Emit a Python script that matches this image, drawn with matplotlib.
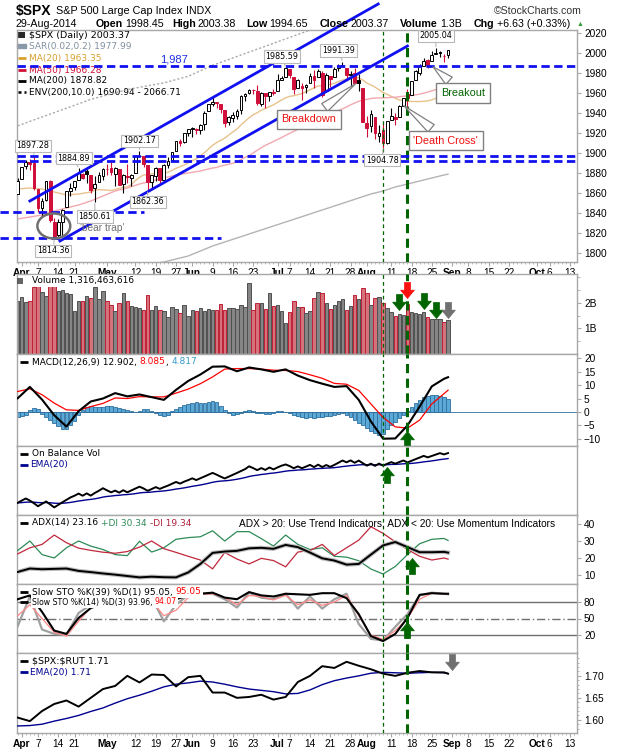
import numpy as np
import pandas as pd
import matplotlib
matplotlib.use("Agg")
import matplotlib.pyplot as plt
import matplotlib.transforms as mtransforms
from matplotlib.path import Path
from matplotlib.patches import Ellipse

plt.rcParams['font.family'] = ['Liberation Sans', 'DejaVu Sans']
LEG = ['DejaVu Sans']

W, H = 620, 750

# ---------------- data ----------------
holidays = ['2014-04-18', '2014-05-26', '2014-07-04', '2014-09-01']
trade_days = pd.bdate_range('2014-03-31', '2014-10-17', freq='C', holidays=holidays)

opens = [1859.16, 1873.96, 1886.61, 1891.43, 1890.25, 1863.92, 1845.48, 1852.64, 1872.28, 1830.65,
         1818.18, 1831.45, 1846.01, 1861.73, 1865.79, 1872.57, 1879.32, 1881.97, 1877.72, 1865.00,
         1870.78, 1877.10, 1884.39, 1885.30, 1879.45, 1883.69, 1868.53, 1877.39, 1875.27, 1880.03,
         1896.75, 1897.13, 1888.16, 1871.19, 1876.66, 1884.88, 1873.34, 1888.19, 1893.32, 1902.01,
         1911.77, 1910.60, 1920.33, 1923.87, 1923.07, 1923.06, 1928.52, 1942.41, 1948.97, 1950.34,
         1949.37, 1943.35, 1930.80, 1934.84, 1937.15, 1942.73, 1957.50, 1960.45, 1962.92, 1961.97,
         1949.27, 1959.89, 1956.56, 1960.79, 1962.29, 1973.06, 1975.88, 1984.22, 1976.39, 1965.10,
         1966.67, 1965.76, 1969.86, 1977.36, 1976.35, 1979.75, 1961.54, 1976.93, 1975.65, 1985.32,
         1988.07, 1984.60, 1978.25, 1980.03, 1973.21, 1965.14, 1929.80, 1926.62, 1936.34, 1917.29,
         1923.03, 1910.35, 1933.43, 1935.73, 1935.60, 1947.41, 1958.87, 1958.36, 1972.73, 1980.46,
         1986.82, 1992.60, 1991.74, 1998.59, 2000.54, 1997.42, 1998.45]
highs = [1875.18, 1885.84, 1893.17, 1893.80, 1897.28, 1864.04, 1854.95, 1872.43, 1872.53, 1835.07,
         1834.19, 1844.02, 1862.31, 1869.63, 1871.89, 1884.89, 1879.75, 1884.06, 1877.72, 1877.01,
         1880.60, 1885.20, 1888.59, 1891.33, 1885.51, 1883.69, 1878.83, 1889.07, 1878.57, 1897.13,
         1902.17, 1897.13, 1888.16, 1878.28, 1886.00, 1884.88, 1888.80, 1896.33, 1901.26, 1912.28,
         1914.46, 1920.03, 1924.03, 1925.88, 1925.07, 1928.63, 1941.74, 1949.44, 1955.55, 1950.86,
         1949.37, 1943.35, 1937.30, 1941.15, 1943.69, 1957.74, 1959.87, 1963.91, 1963.74, 1968.17,
         1960.83, 1959.89, 1961.47, 1964.24, 1978.58, 1976.67, 1985.59, 1984.22, 1976.39, 1974.15,
         1969.84, 1968.67, 1979.85, 1982.52, 1983.94, 1981.80, 1979.91, 1976.93, 1986.24, 1989.23,
         1991.39, 1984.60, 1981.52, 1984.85, 1978.90, 1965.14, 1937.35, 1942.92, 1936.34, 1927.91,
         1928.89, 1932.38, 1944.90, 1939.65, 1948.41, 1955.23, 1964.04, 1971.99, 1982.57, 1988.57,
         1994.76, 1993.54, 2001.95, 2005.04, 2002.14, 1998.55, 2003.38]
lows = [1859.16, 1873.96, 1883.79, 1882.65, 1863.26, 1841.48, 1837.49, 1852.38, 1830.87, 1814.36,
        1815.80, 1816.29, 1846.01, 1856.72, 1863.18, 1872.57, 1873.91, 1870.24, 1859.70, 1850.61,
        1870.78, 1872.69, 1878.04, 1878.50, 1866.77, 1867.72, 1859.79, 1870.05, 1867.02, 1880.03,
        1896.06, 1885.77, 1862.36, 1864.82, 1872.42, 1868.14, 1873.34, 1885.39, 1893.32, 1902.01,
        1907.30, 1909.82, 1916.64, 1915.98, 1918.79, 1918.60, 1922.93, 1942.41, 1947.16, 1944.64,
        1940.08, 1925.78, 1927.69, 1930.91, 1933.55, 1939.29, 1952.26, 1959.17, 1958.89, 1948.34,
        1947.49, 1944.69, 1952.18, 1958.22, 1962.29, 1972.58, 1975.88, 1974.88, 1959.46, 1965.10,
        1952.86, 1959.63, 1969.86, 1965.34, 1975.67, 1955.59, 1960.82, 1965.77, 1975.65, 1982.44,
        1985.79, 1974.37, 1967.31, 1969.95, 1962.42, 1930.67, 1916.37, 1921.20, 1913.77, 1911.45,
        1904.78, 1909.01, 1933.43, 1928.29, 1935.60, 1947.41, 1941.50, 1958.36, 1972.73, 1977.68,
        1986.82, 1984.76, 1991.74, 1998.59, 1996.20, 1990.52, 1994.65]
closes = [1872.34, 1885.52, 1890.90, 1888.77, 1865.09, 1845.04, 1851.96, 1872.18, 1833.08, 1815.69,
          1830.61, 1842.98, 1862.31, 1864.85, 1871.89, 1879.55, 1875.39, 1878.61, 1863.40, 1869.43,
          1878.33, 1883.95, 1883.68, 1881.14, 1884.66, 1867.72, 1878.21, 1875.63, 1878.48, 1896.65,
          1897.45, 1888.53, 1870.85, 1877.86, 1885.08, 1872.83, 1888.03, 1892.49, 1900.53, 1911.91,
          1909.78, 1920.03, 1923.57, 1924.97, 1924.24, 1927.88, 1940.46, 1949.44, 1951.27, 1950.79,
          1943.89, 1930.11, 1936.16, 1937.78, 1941.99, 1956.98, 1959.48, 1962.87, 1962.61, 1949.98,
          1959.53, 1957.22, 1960.96, 1960.23, 1973.32, 1974.62, 1985.44, 1977.65, 1963.71, 1972.83,
          1964.68, 1967.57, 1977.10, 1973.28, 1981.57, 1958.12, 1978.22, 1973.63, 1983.53, 1987.01,
          1987.98, 1978.34, 1978.91, 1969.95, 1970.07, 1930.67, 1925.15, 1938.99, 1920.21, 1920.24,
          1909.57, 1931.59, 1936.92, 1933.75, 1946.72, 1955.18, 1955.06, 1971.74, 1981.60, 1986.51,
          1992.37, 1988.40, 1997.92, 2000.02, 2000.12, 1996.74, 2003.37]
# billions of shares
volumes = [2.08, 2.22, 2.03, 2.08, 2.60, 2.90, 2.41, 2.27, 2.90, 2.90,
           2.47, 2.50, 2.37, 2.35, 1.69, 2.08, 2.08, 2.27, 2.18, 2.63,
           2.15, 2.44, 2.08, 1.92, 1.69, 1.99, 2.37, 2.08, 1.88, 1.83,
           1.81, 1.73, 2.31, 1.73, 1.88, 1.73, 1.69, 1.46, 1.83, 1.77,
           1.60, 1.92, 1.50, 1.73, 1.69, 1.79, 1.69, 1.77, 1.73, 1.73,
           1.95, 1.73, 1.79, 1.79, 1.76, 1.90, 1.83, 2.76, 1.73, 1.99,
           1.99, 1.77, 2.37, 1.86, 1.92, 1.69, 1.22, 1.64, 2.08, 1.83,
           1.83, 1.60, 1.69, 2.18, 2.41, 2.37, 1.99, 1.77, 1.92, 2.08,
           2.15, 1.73, 1.86, 2.31, 2.14, 2.56, 2.37, 1.92, 2.18, 2.24,
           1.99, 1.79, 1.64, 1.50, 1.56, 1.54, 1.95, 1.64, 1.60, 1.56,
           1.64, 1.45, 1.37, 1.38, 1.38, 1.26, 1.32]
macd_hist = [-1.8, -1.6, -1.2, 0.8, 1.4, 1.2, -0.8, -1.8, -3.0, -4.2,
             -5.2, -6.2, -6.4, -5.0, -3.2, -1.0, 0.8, 1.8, 2.2, 2.0,
             1.9, 2.0, 2.1, 2.2, 2.0, 1.4, 1.0, 0.9, 0.5, 0.1,
             0.5, 1.0, 1.2, 0.5, -0.5, -1.0, -1.5, -1.0, 0.4, 1.2,
             2.0, 2.6, 3.0, 3.4, 3.6, 3.4, 3.2, 3.6, 3.9, 3.6,
             2.2, 0.6, -0.5, -1.0, -0.6, -0.3, 0.2, 0.6, 0.3, -0.2,
             -0.5, -0.6, -0.8, -0.5, 0.2, 0.5, 0.1, -0.5, -1.0, -1.6,
             -2.0, -2.1, -2.0, -2.2, -2.0, -2.0, -1.6, -1.5, -1.0, -0.8,
             -0.5, -1.0, -1.8, -3.0, -4.0, -5.0, -6.0, -7.0, -7.8, -8.4,
             -8.0, -6.2, -5.0, -3.6, -2.2, -1.0, 0.5, 2.0, 3.4, 4.5,
             5.4, 6.0, 6.4, 6.3, 6.0, 5.5, 4.817]

# indicator lines read every third session (plus the last one)
macd_line = [5.1, 9.3, 4.6, -1.2, -5.4, 0.3, 3.9, 5.0, 7.0, 5.8, 6.5, 5.5, 4.5, 8.2, 11.5, 13.9, 16.8,
             16.9, 15.1, 16.5, 15.8, 14.9, 15.8, 13.5, 11.8, 10.5, 9.3, 9.6, 4.5, -3.5, -9.9, -9.8,
             -5.0, 2.0, 9.5, 12.3, 12.902]
macd_signal = [7.6, 8.6, 6.4, 3.3, 0.8, 0.6, 2.0, 3.2, 5.2, 5.0, 5.7, 5.6, 5.6, 7.0, 8.5, 10.5, 13.0,
               15.9, 16.1, 16.1, 15.9, 15.5, 15.4, 15.0, 13.8, 12.5, 10.6, 10.3, 8.0, 3.0, -2.0, -5.5,
               -6.0, -3.0, 3.0, 6.8, 8.085]
adx = [11.8, 13.8, 13.4, 13.6, 13.8, 12.4, 11.7, 10.9, 10.2, 9.4, 8.6, 9.0, 8.7, 8.6, 11.5, 16.5, 23.0,
       23.8, 24.2, 25.7, 26.0, 25.4, 27.7, 26.4, 23.2, 19.8, 18.5, 16.1, 16.5, 22.0, 27.4, 29.4, 26.4,
       23.4, 23.4, 23.6, 23.16]
plus_di = [24.4, 30.0, 22.0, 20.0, 26.0, 30.0, 27.0, 25.0, 22.0, 21.4, 29.8, 23.5, 26.0, 31.0, 32.0,
           32.5, 36.0, 30.0, 35.5, 35.5, 31.4, 27.0, 33.5, 28.0, 25.0, 26.0, 21.0, 20.5, 18.4, 13.5,
           10.6, 15.0, 22.0, 28.4, 31.0, 31.5, 30.34]
minus_di = [22.4, 26.0, 28.0, 33.5, 29.0, 25.8, 24.5, 23.4, 22.8, 23.8, 26.4, 30.0, 25.5, 23.3, 21.0,
            18.8, 13.6, 23.2, 19.4, 16.5, 19.8, 18.5, 14.8, 23.5, 24.4, 28.0, 21.5, 26.0, 30.5, 38.4,
            34.5, 29.5, 25.0, 21.0, 18.8, 20.0, 19.34]
sto_k39 = [85, 92, 62, 28, 22, 51, 69, 77, 80, 85, 82, 80, 75, 85, 92, 95, 97, 88, 85, 98, 92, 90, 95,
           94, 93, 96, 96, 87, 58, 18, 9, 22, 51, 93, 96, 95, 95.05]
sto_k14 = [36, 90, 30, 22, 20, 60, 75, 86, 75, 80, 72, 88, 45, 75, 93, 95, 95, 85, 70, 97, 88, 85, 95,
           68, 90, 68, 85, 95, 40, 13, 10, 35, 58, 92, 97, 95, 93.96]
sto_d3 = [55, 75, 50, 25, 18, 45, 70, 82, 78, 78, 75, 82, 55, 65, 88, 94, 95, 88, 75, 92, 90, 84, 92,
          75, 84, 74, 80, 92, 55, 20, 12, 28, 50, 85, 96, 95, 94.07]
spx_rut = [1.605, 1.597, 1.620, 1.636, 1.644, 1.630, 1.650, 1.670, 1.677, 1.700, 1.685, 1.703, 1.702,
           1.676, 1.697, 1.700, 1.662, 1.662, 1.650, 1.652, 1.657, 1.646, 1.652, 1.686, 1.700, 1.722,
           1.718, 1.732, 1.723, 1.715, 1.705, 1.700, 1.707, 1.711, 1.708, 1.708, 1.705]
spx_rut_ema = [1.586, 1.587, 1.590, 1.597, 1.603, 1.610, 1.619, 1.627, 1.638, 1.648, 1.656, 1.665,
               1.675, 1.681, 1.684, 1.688, 1.686, 1.681, 1.675, 1.670, 1.667, 1.664, 1.659, 1.660,
               1.668, 1.680, 1.689, 1.695, 1.700, 1.706, 1.708, 1.707, 1.706, 1.707, 1.708, 1.707,
               1.705]
ma200 = [1752, 1756, 1760, 1764, 1768, 1772, 1776, 1779, 1782, 1785, 1787, 1789, 1791, 1794, 1797,
         1802, 1807, 1811, 1815, 1819, 1823, 1827, 1831, 1835, 1839, 1843, 1847, 1851, 1855, 1859,
         1862, 1866, 1869, 1872, 1875, 1878, 1878.82]
# moving averages before their window is full
ma20_early = [1864, 1865, 1864, 1861, 1858, 1859, 1861]
ma50_early = [1834, 1836, 1838, 1842, 1845, 1848, 1852, 1857, 1862, 1865, 1869, 1872, 1875, 1878,
              1880, 1882, 1885]

tick_dates = ['2014-04-01', '2014-04-07', '2014-04-14', '2014-04-21', '2014-05-01', '2014-05-12',
              '2014-05-19', '2014-05-27', '2014-06-02', '2014-06-09', '2014-06-16', '2014-06-23',
              '2014-07-01', '2014-07-07', '2014-07-14', '2014-07-21', '2014-07-28', '2014-08-01',
              '2014-08-11', '2014-08-18', '2014-08-25', '2014-09-02', '2014-09-08', '2014-09-15',
              '2014-09-22', '2014-10-01', '2014-10-06', '2014-10-13']
tick_labels = ['Apr', '7', '14', '21', 'May', '12', '19', '27', 'Jun', '9', '16', '23', 'Jul', '7',
               '14', '21', '28', 'Aug', '11', '18', '25', 'Sep', '8', '15', '22', 'Oct', '6', '13']

price_marks = [('2014-04-04', 1897.28, -1, 10), ('2014-04-22', 1884.89, -5, 10),
               ('2014-04-28', 1850.61, 0, -14), ('2014-04-11', 1814.36, -1, -12),
               ('2014-05-13', 1902.17, 0, 10), ('2014-05-15', 1862.36, 0, -11),
               ('2014-07-03', 1985.59, -4, 11), ('2014-07-24', 1991.39, -4, 11),
               ('2014-08-07', 1904.78, -1, -12), ('2014-08-26', 2005.04, 0, 12)]

# ---------------- helpers ----------------
n = len(closes)
x = np.arange(n)
samp = list(range(0, n, 3)) + [n - 1]
day_pos = {d.strftime('%Y-%m-%d'): i for i, d in enumerate(trade_days)}
tick_idx = [day_pos[d] for d in tick_dates]

px_per_day = 4.06
x_lo = -0.17
x_hi = x_lo + 560 / px_per_day

frame = '#a8a8a8'
red = '#d0103a'
blue_line = '#1010f0'
dkgreen = '#006400'

fig = plt.figure(figsize=(W / 100, H / 100), dpi=100)
fig.patch.set_facecolor('white')
renderer = fig.canvas.get_renderer()


def panel(top, bottom):
    ax = fig.add_axes([17 / W, 1 - bottom / H, 560 / W, (bottom - top) / H])
    ax.set_xlim(x_lo, x_hi)
    for s in ax.spines.values():
        s.set_color(frame)
        s.set_linewidth(1)
    ax.yaxis.tick_right()
    ax.tick_params(axis='y', length=3, width=0.8, color=frame, pad=2, labelsize=7.3)
    ax.set_xticks(tick_idx)
    ax.tick_params(axis='x', length=0, labelbottom=False)
    return ax


def fpos(px, py):
    return px / W, 1 - py / H


def rich(ax, px, py, parts, size=6.5, family=LEG, bg=None, z=6):
    for txt, col, gap in parts:
        t = ax.text(*fpos(px, py), txt, transform=fig.transFigure, color=col, fontsize=size,
                    family=family, va='center', ha='left', zorder=z)
        if bg:
            t.set_bbox(dict(facecolor=bg, edgecolor='none', pad=0.8))
        px += t.get_window_extent(renderer).width + gap


def icon(ax, px, py, col, lw=2, ls='-'):
    ax.plot([px / W, (px + 8) / W], [1 - py / H] * 2, transform=fig.transFigure, color=col, lw=lw,
            ls=ls, clip_on=False, zorder=7, solid_capstyle='butt')


def day_axis(ax, labels):
    ax.set_xticks(np.arange(0, int(x_hi) + 1), minor=True)
    ax.tick_params(axis='x', which='minor', length=1.5, width=0.6, color='#b0b0b0')
    ax.tick_params(axis='x', which='major', length=3, width=0.8, color=frame)
    if labels:
        ax.set_xticklabels(tick_labels)
        ax.tick_params(axis='x', labelbottom=True, labelsize=7.3, pad=1)
        for lab in ax.get_xticklabels():
            if lab.get_text().isalpha():
                lab.set_fontweight('bold')


def vlines(ax):
    ax.axvline(day_pos['2014-08-07'], color=dkgreen, lw=0.9, ls=(0, (3, 2.5)), zorder=4)
    ax.axvline(day_pos['2014-08-15'], color=dkgreen, lw=2.2, ls=(0, (3, 1.8)), zorder=4)


down_arrow = Path([(-0.19, 0.5), (0.19, 0.5), (0.19, 0.02), (0.43, 0.02), (0, -0.5), (-0.43, 0.02),
                   (-0.19, 0.02), (-0.19, 0.5)], closed=True)
up_arrow = Path([(-0.19, -0.5), (0.19, -0.5), (0.19, -0.02), (0.43, -0.02), (0, 0.5), (-0.43, -0.02),
                 (-0.19, -0.02), (-0.19, -0.5)], closed=True)


def arrow(ax, i, yfrac, up, col):
    tr = mtransforms.blended_transform_factory(ax.transData, ax.transAxes)
    ax.plot([i], [yfrac], marker=up_arrow if up else down_arrow, ms=11.5, color=col, mec=col,
            mew=0.5, transform=tr, clip_on=False, zorder=8)


# ---------------- header ----------------
t = fig.text(*fpos(16, 11), '\\$SPX', fontsize=10, fontweight='bold', va='center')
hx = 16 + t.get_window_extent(renderer).width + 4
t = fig.text(*fpos(hx, 11), 'S&P 500 Large Cap Index', fontsize=7.8, va='center')
hx += t.get_window_extent(renderer).width + 4
fig.text(*fpos(hx, 11), 'INDX', fontsize=7.6, va='center')
fig.text(*fpos(582, 11), '\u00a9StockCharts.com', fontsize=7.6, va='center', ha='right', color='#333333')
fig.text(*fpos(16, 24), '29-Aug-2014', fontsize=7.7, va='center')
for lx, key, val in [(96, 'Open', '1998.45'), (172, 'High', '2003.38'), (246, 'Low', '1994.65'),
                     (320, 'Close', '2003.37'), (400, 'Volume', '1.3B'), (474, 'Chg', '+6.63 (+0.33%)')]:
    t = fig.text(*fpos(lx, 24), key, fontsize=7.7, fontweight='bold', va='center')
    w = t.get_window_extent(renderer).width
    fig.text(*fpos(lx + w + 2, 24), val, fontsize=7.7, va='center')
fig.text(*fpos(577, 25), '\u25b2', fontsize=5, color='#2e9b2e', va='center')

# ---------------- price panel ----------------
ax = panel(30, 262)
ax.set_ylim(1791, 2023)
ax.set_yticks(np.arange(1800, 2021, 20))
day_axis(ax, True)

prev = [opens[0]] + closes[:-1]
cols = [red if c < p else 'black' for c, p in zip(closes, prev)]
faces = ['white' if c >= o else col for c, o, col in zip(closes, opens, cols)]
bottoms = np.minimum(opens, closes)
heights = np.maximum(np.abs(np.array(closes) - np.array(opens)), 0.4)
ax.vlines(x, lows, highs, colors=cols, lw=0.8, zorder=3)
ax.bar(x, heights, bottom=bottoms, width=0.68, color=faces, edgecolor=cols, lw=0.7, zorder=3.5)

cs = pd.Series(closes)
ma20 = cs.rolling(20).mean()
ma50 = cs.rolling(50).mean()
e20 = list(range(0, 19, 3))
e50 = list(range(0, 49, 3))
ax.plot(e20 + list(range(19, n)), ma20_early + list(ma20[19:]), color='#e8c28c', lw=1, zorder=2)
ax.plot(e50 + list(range(49, n)), ma50_early + list(ma50[49:]), color='#f2a8b0', lw=1, zorder=2)
ax.plot(samp, ma200, color='#b4b4b4', lw=1, zorder=2)
ax.plot(samp, np.array(ma200) * 1.1, color='#a8a8a8', lw=1, ls=(0, (1.5, 1.5)), zorder=2)

# trend channel and support lines
ax.plot([3, 88.8], [1852, 2049], color=blue_line, lw=2, clip_on=False, zorder=5)
ax.plot([10.4, 96], [1812, 2007], color=blue_line, lw=2, clip_on=False, zorder=5)
dash = (0, (3, 1.6))
for lvl, x0, x1 in [(1987, x_lo, x_hi), (1897, x_lo, x_hi), (1892, x_lo, x_hi),
                    (1841, x_lo - 17 / px_per_day, 31), (1815, x_lo - 17 / px_per_day, 50)]:
    ax.plot([x0, x1], [lvl, lvl], color=blue_line, lw=2, ls=dash, clip_on=False, zorder=5)
ax.text(*fpos(160, 60), '1,987', transform=fig.transFigure, color='#2030e0', fontsize=8, va='center')

for d, price, dx, dy in price_marks:
    ax.annotate(f'{price:.2f}', xy=(day_pos[d], price), xytext=(dx, dy), textcoords='offset pixels',
                ha='center', va='center', fontsize=5.8, family=LEG, zorder=9,
                bbox=dict(boxstyle='square,pad=0.2', fc='white', ec='#b8b8b8', lw=0.8),
                arrowprops=dict(arrowstyle='-', color='#b8b8b8', lw=0.8, shrinkA=0, shrinkB=1))

for txt, tip, off, col in [('Breakdown', (83.8, 1971), (-49, -37.5), '#ee1111'),
                           ("'Death Cross'", (94.6, 1949), (44, -36.5), '#ee1111'),
                           ('Breakout', (101.8, 1988), (32, -28), dkgreen)]:
    ax.annotate(txt, xy=tip, xytext=off, textcoords='offset pixels', ha='center', va='center',
                fontsize=7.8, color=col, zorder=9,
                bbox=dict(boxstyle='square,pad=0.45', fc='white', ec='#808080', lw=1),
                arrowprops=dict(arrowstyle='wedge,tail_width=0.9,shrink_factor=0.5', fc='white',
                                ec='#808080', lw=0.9))

ax.add_patch(Ellipse((8.9, 1827), 8.1, 25, fill=False, ec='#707070', lw=1.8, zorder=6))
ax.text(20.8, 1825, "'bear trap'", color='#707070', fontsize=7.3, ha='center', va='center', zorder=6)
vlines(ax)

# legend of the price panel
ax.plot([18 / W, 20 / W, 22 / W, 24 / W], [1 - 35 / H] * 4, transform=fig.transFigure, ls='none',
        marker='|', ms=5, mew=1.2, color='black', clip_on=False)
rich(ax, 29, 35, [('\\$SPX (Daily) 2003.37', 'black', 0)], size=6.8, z=1)
ax.plot([19 / W, 24 / W], [1 - 46 / H] * 2, transform=fig.transFigure, ls='none', marker='s', ms=2.2,
        color='#8899aa', clip_on=False)
rich(ax, 29, 46, [('SAR(0.02,0.2) 1977.99', '#8090a0', 0)], z=1)
icon(ax, 18, 58, '#d9a030')
rich(ax, 29, 58, [('MA(20) 1963.35', '#d9a030', 0)], z=1)
icon(ax, 18, 70, red)
rich(ax, 29, 70, [('MA(50) 1966.28', red, 0)], z=1)
icon(ax, 18, 81, 'black')
rich(ax, 29, 81, [('MA(200) 1878.82', 'black', 0)], z=1)
icon(ax, 18, 92, 'black', lw=1.8, ls=(0, (1.2, 1.2)))
rich(ax, 29, 92, [('ENV(200,10.0) 1690.94 - 2066.71', 'black', 0)], z=1)

# ---------------- volume ----------------
axv = panel(274, 354)
axv.set_ylim(0, 3.12)
axv.set_yticks([1, 2])
axv.set_yticklabels(['1B', '2B'])
axv.set_yticks(np.arange(0.5, 3.1, 0.5), minor=True)
axv.tick_params(axis='y', which='minor', length=2, color=frame)
vface = ['#d4737c' if c == red else '#858585' for c in cols]
vedge = ['#c02035' if c == red else '#505050' for c in cols]
axv.bar(x, volumes, width=0.86, color=vface, edgecolor=vedge, lw=0.7, zorder=2)
vlines(axv)
axv.plot([18 / W, 20 / W, 22 / W], [1 - 281 / H] * 3, transform=fig.transFigure, ls='none', marker='|',
         ms=4, mew=1.3, color='#555555', clip_on=False, zorder=7)
rich(axv, 32, 281, [('Volume 1,316,463,616', 'black', 0)], bg='white')
arrow(axv, day_pos['2014-08-15'], 0.80, False, '#ff1010')
arrow(axv, day_pos['2014-08-13'], 0.65, False, dkgreen)
arrow(axv, day_pos['2014-08-21'], 0.66, False, dkgreen)
arrow(axv, day_pos['2014-08-26'], 0.55, False, dkgreen)
arrow(axv, day_pos['2014-08-29'], 0.55, False, '#707070')

# ---------------- MACD ----------------
axm = panel(354, 446)
axm.set_ylim(-12.6, 21.5)
axm.set_yticks(np.arange(-10, 21, 5))
axm.bar(x, macd_hist, width=0.9, color='#5aa9d6', edgecolor='#2f6f9f', lw=0.6, zorder=2)
axm.axhline(0, color='#2f6f9f', lw=0.6, zorder=2)
axm.plot(samp, macd_signal, color='#ff0000', lw=0.9, zorder=3)
axm.plot(samp, macd_line, color='black', lw=1.5, zorder=3)
vlines(axm)
icon(axm, 20, 362, 'black')
rich(axm, 32, 362, [('MACD(12,26,9) 12.902,', 'black', 3), ('8.085', '#ff0000', 0), (',', 'black', 3),
                    ('4.817', '#3399cc', 0)], bg='white')
arrow(axm, day_pos['2014-08-15'], 0.08, True, dkgreen)

# ---------------- On Balance Volume ----------------
axo = panel(446, 515)
obv = np.concatenate([[0], np.cumsum(np.sign(np.diff(closes)) * np.array(volumes[1:]))])
obv_ema = pd.Series(obv).ewm(span=20, adjust=False).mean()
rng = obv.max() - obv.min()
axo.set_ylim(obv.min() - 0.14 * rng, obv.max() + 0.13 * rng)
axo.set_yticks([])
axo.plot(x, obv_ema, color='#000090', lw=1, zorder=3)
axo.plot(x, obv, color='black', lw=1.4, zorder=3)
vlines(axo)
icon(axo, 20, 454, 'black')
rich(axo, 32, 454, [('On Balance Vol', 'black', 0)])
icon(axo, 20, 465, '#000090')
rich(axo, 30, 465, [('EMA(20)', '#000090', 0)])
arrow(axo, day_pos['2014-08-08'], 0.58, True, dkgreen)

# ---------------- ADX ----------------
axa = panel(515, 584)
axa.set_ylim(4.7, 45.3)
axa.set_yticks([10, 20, 30, 40])
axa.plot(samp, plus_di, color='#2e8b57', lw=0.9, zorder=3)
axa.plot(samp, minus_di, color='#c0283c', lw=0.9, zorder=3)
axa.plot(samp, adx, color='#bbbbbb', lw=3, zorder=3)
axa.plot(samp, adx, color='black', lw=1.4, zorder=3)
vlines(axa)
icon(axa, 20, 523, 'black')
rich(axa, 32, 523, [('ADX(14) 23.16', 'black', 3), ('+DI 30.34', '#2e8b57', 3), ('-DI 19.34', '#b0203a', 0)])
axa.text(*fpos(239, 523), 'ADX > 20: Use Trend Indicators, ADX < 20: Use Momentum Indicators',
         transform=fig.transFigure, fontsize=7.3, va='center', zorder=6)
arrow(axa, day_pos['2014-08-18'], 0.26, True, dkgreen)

# ---------------- Slow stochastics ----------------
axs = panel(584, 653)
axs.set_ylim(-12.7, 112.7)
axs.set_yticks([20, 50, 80])
for lvl, ls in [(80, '-'), (20, '-'), (50, (0, (6, 2, 1, 2)))]:
    axs.axhline(lvl, color='#707070', lw=1, ls=ls, zorder=1)
axs.plot(samp, sto_k14, color='#a0a0a0', lw=1.6, zorder=3)
axs.plot(samp, sto_d3, color='#ff8888', lw=0.9, zorder=3)
axs.plot(samp, sto_k39, color='black', lw=1.5, zorder=3)
vlines(axs)
icon(axs, 20, 592, 'black')
rich(axs, 32, 592, [('Slow STO %K(39) %D(1) 95.05,', 'black', 3), ('95.05', '#ff0000', 0)], bg='white')
icon(axs, 20, 602, 'black')
rich(axs, 32, 602, [('Slow STO %K(14) %D(3) 93.96,', 'black', 2), ('94.07', '#ff0000', 0)], size=5.6,
     bg='white')
arrow(axs, day_pos['2014-08-15'], 0.33, True, dkgreen)

# ---------------- SPX:RUT ratio ----------------
axr = panel(653, 733)
axr.set_ylim(1.570, 1.752)
axr.set_yticks([1.60, 1.65, 1.70])
axr.set_yticklabels(['1.60', '1.65', '1.70'])
axr.set_yticks(np.arange(1.58, 1.75, 0.01), minor=True)
axr.tick_params(axis='y', which='minor', length=1.5, color=frame)
day_axis(axr, True)
axr.plot(samp, spx_rut_ema, color='#000090', lw=1, zorder=3)
axr.plot(samp, spx_rut, color='black', lw=1.4, zorder=3)
vlines(axr)
icon(axr, 20, 661, 'black')
rich(axr, 32, 661, [('\\$SPX:\\$RUT 1.71', 'black', 0)], size=6.8)
icon(axr, 20, 672, '#000090')
rich(axr, 30, 672, [('EMA(20) 1.71', '#000090', 0)])
arrow(axr, day_pos['2014-08-29'] + 1, 0.89, False, '#707070')

fig.savefig('out.png', dpi=100)
